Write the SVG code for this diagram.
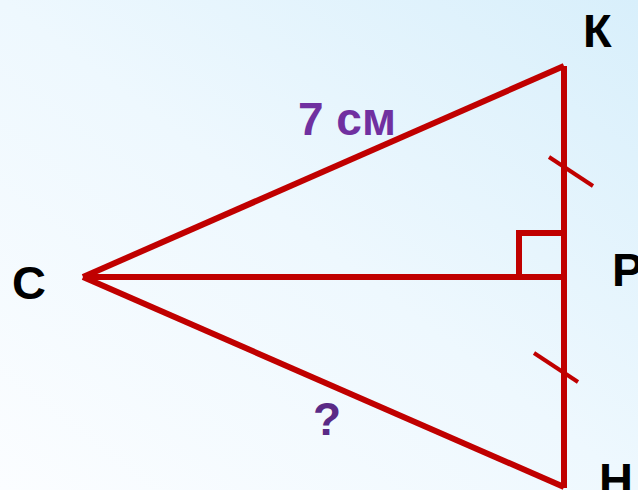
<svg xmlns="http://www.w3.org/2000/svg" width="638" height="490" viewBox="0 0 638 490">
<defs>
<linearGradient id="bg" x1="0" y1="1" x2="1" y2="0">
<stop offset="0" stop-color="#fbfdff"/>
<stop offset="0.5" stop-color="#eef8fe"/>
<stop offset="1" stop-color="#d8effb"/>
</linearGradient>
<style>
.ln{stroke:#c00000;fill:none;stroke-width:6;stroke-linecap:butt}
.tk{stroke:#c00000;stroke-width:4}
.lbl{font-family:"Liberation Sans",Arial,sans-serif;font-weight:bold;font-size:47px;fill:#000}
.val{font-family:"Liberation Sans",Arial,sans-serif;font-weight:bold;font-size:46px}
</style>
</defs>
<rect width="638" height="490" fill="url(#bg)"/>
<g id="connectors">
<line class="ln" x1="83" y1="277" x2="564" y2="66"/>
<line class="ln" x1="83" y1="277" x2="564" y2="487"/>
<line class="ln" x1="83" y1="277" x2="564" y2="277"/>
<line class="ln" x1="564" y1="66" x2="564" y2="488"/>
<polyline class="ln" stroke-width="5" points="519,277 519,233 564,233"/>
<line class="tk" x1="549" y1="157" x2="593" y2="186"/>
<line class="tk" x1="534" y1="353" x2="578" y2="382"/>
</g>
<g id="node-K"><text class="lbl" x="583" y="47">К</text></g>
<g id="node-C"><text class="lbl" x="12" y="299">С</text></g>
<g id="node-P"><text class="lbl" x="612" y="286">Р</text></g>
<g id="node-H"><text class="lbl" x="599" y="496">Н</text></g>
<g id="label-7"><text class="val" x="298" y="135" fill="#7030a0">7 см</text></g>
<g id="label-q"><text class="val" x="313" y="435" fill="#5a2a86">?</text></g>
</svg>
